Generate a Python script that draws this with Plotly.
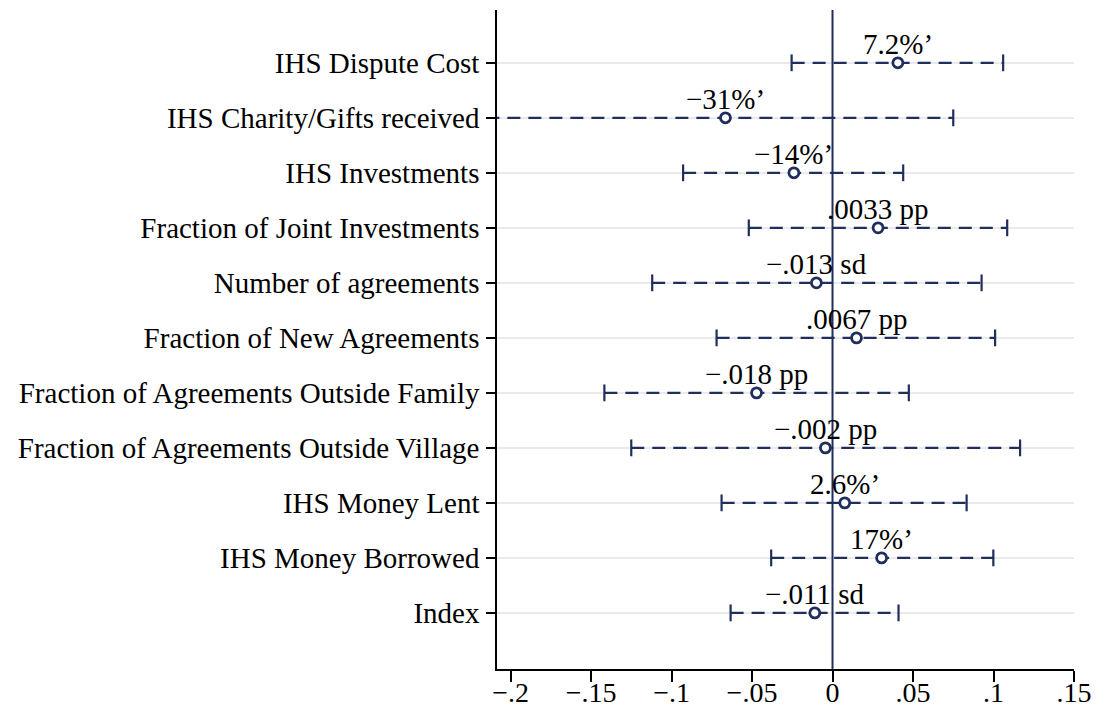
"""Coefficient plot (coefplot style) with Plotly"""

import plotly.graph_objects as go

# 変数ラベル（上から順）
labels = [
    'IHS Dispute Cost',
    'IHS Charity/Gifts received',
    'IHS Investments',
    'Fraction of Joint Investments',
    'Number of agreements',
    'Fraction of New Agreements',
    'Fraction of Agreements Outside Family',
    'Fraction of Agreements Outside Village',
    'IHS Money Lent',
    'IHS Money Borrowed',
    'Index',
]

# 点推定と信頼区間
coef = [0.0406, -0.0665, -0.0240, 0.0283, -0.0100, 0.0149,
        -0.0472, -0.0044, 0.0076, 0.0305, -0.0110]
ci_low = [-0.0254, -0.2150, -0.0928, -0.0520, -0.1120, -0.0720,
          -0.1417, -0.1250, -0.0689, -0.0381, -0.0633]
ci_high = [0.1060, 0.0750, 0.0439, 0.1085, 0.0926, 0.1010,
           0.0474, 0.1165, 0.0833, 0.0999, 0.0410]

# 効果の大きさラベル
effect_text = ['7.2%’', '−31%’', '−14%’', '.0033 pp', '−.013 sd', '.0067 pp',
               '−.018 pp', '−.002 pp', '2.6%’', '17%’', '−.011 sd']

x_ticks = [-0.2, -0.15, -0.1, -0.05, 0, 0.05, 0.1, 0.15]
x_ticktext = ['−.2', '−.15', '−.1', '−.05', '0', '.05', '.1', '.15']

NAVY = '#1f2e5c'
FONT = 'Liberation Serif, Times New Roman, serif'

rows = list(range(1, len(labels) + 1))

fig = go.Figure()

# 信頼区間（破線）
ci_x, ci_y = [], []
for lo, hi, r in zip(ci_low, ci_high, rows):
    ci_x += [lo, hi, None]
    ci_y += [r, r, None]
fig.add_trace(go.Scatter(
    x=ci_x, y=ci_y, mode='lines',
    line=dict(color=NAVY, width=2.2, dash='13px,8px'),
    hoverinfo='skip', showlegend=False,
))

# 信頼区間の端
fig.add_trace(go.Scatter(
    x=ci_low + ci_high, y=rows + rows, mode='markers',
    marker=dict(symbol='line-ns', size=12, line=dict(color=NAVY, width=2.2)),
    cliponaxis=True, hoverinfo='skip', showlegend=False,
))

# 点推定
fig.add_trace(go.Scatter(
    x=coef, y=rows, mode='markers',
    marker=dict(symbol='circle', size=10, color='white',
                line=dict(color=NAVY, width=2.8)),
    cliponaxis=False, showlegend=False,
    hovertemplate='%{x:.3f}<extra></extra>',
))

# 効果ラベル（点の真上）
for c, r, t in zip(coef, rows, effect_text):
    fig.add_annotation(x=c, y=r, text=t, showarrow=False,
                       xanchor='center', yanchor='bottom', yshift=1,
                       font=dict(family=FONT, size=29, color='black'))

# ゼロの基準線
fig.add_shape(type='line', x0=0, x1=0, y0=0, y1=1, xref='x', yref='paper',
              line=dict(color=NAVY, width=2), layer='above')

fig.update_layout(
    width=1096, height=711,
    margin=dict(l=497, r=22, t=10, b=42),
    plot_bgcolor='white', paper_bgcolor='white',
    font=dict(family=FONT, size=29, color='black'),
    xaxis=dict(
        range=[-0.2084, 0.15],
        tickvals=x_ticks, ticktext=x_ticktext,
        showgrid=False, zeroline=False, automargin=False,
        showline=True, linecolor='black', linewidth=1.5,
        ticks='outside', ticklen=11, tickwidth=1.5, tickcolor='black',
        ticklabelstandoff=-13,
        tickfont=dict(family=FONT, size=28, color='black'),
    ),
    yaxis=dict(
        range=[12.02, 0.04],
        tickvals=rows, ticktext=labels,
        showgrid=True, gridcolor='#eaeaea', gridwidth=1.5,
        zeroline=False, automargin=False,
        showline=True, linecolor='black', linewidth=1.5,
        ticks='outside', ticklen=9, tickwidth=1.5, tickcolor='black',
        ticklabelstandoff=1,
        tickfont=dict(family=FONT, size=29, color='black'),
    ),
)

# ページ余白をなくして 1096x711 にぴったり合わせる
fig.write_html('out.html',
               config={'displayModeBar': False},
               post_script="document.body.style.margin='0';"
                           "document.body.style.overflow='hidden';")
